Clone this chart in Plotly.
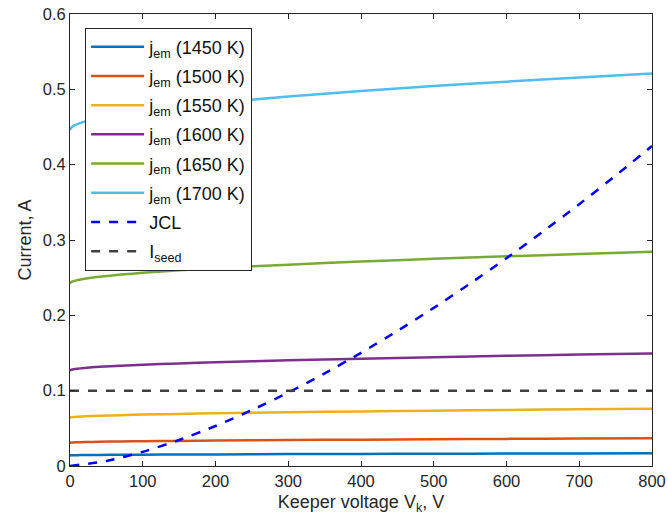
import plotly.graph_objects as go

V = [0, 2, 5, 10, 20, 40, 70, 100, 150, 200, 300, 400, 500, 600, 700, 800]
j1450 = [0.0141, 0.0142, 0.0143, 0.0144, 0.0145, 0.0147, 0.0149, 0.0150, 0.0153, 0.0154, 0.0158, 0.0160, 0.0163, 0.0165, 0.0167, 0.0169]
j1500 = [0.0309, 0.0312, 0.0313, 0.0315, 0.0318, 0.0321, 0.0326, 0.0329, 0.0333, 0.0337, 0.0344, 0.0350, 0.0355, 0.0360, 0.0364, 0.0368]
j1550 = [0.0642, 0.0647, 0.0651, 0.0654, 0.0660, 0.0667, 0.0675, 0.0682, 0.0691, 0.0699, 0.0713, 0.0724, 0.0734, 0.0744, 0.0753, 0.0761]
j1600 = [0.1268, 0.1278, 0.1285, 0.1292, 0.1302, 0.1316, 0.1331, 0.1344, 0.1362, 0.1377, 0.1403, 0.1425, 0.1445, 0.1463, 0.1480, 0.1495]
j1650 = [0.2423, 0.2442, 0.2454, 0.2467, 0.2485, 0.2511, 0.2541, 0.2564, 0.2597, 0.2625, 0.2673, 0.2713, 0.2750, 0.2783, 0.2815, 0.2844]
j1700 = [0.4460, 0.4495, 0.4515, 0.4538, 0.4571, 0.4618, 0.4670, 0.4712, 0.4770, 0.4820, 0.4905, 0.4978, 0.5043, 0.5102, 0.5158, 0.5209]

V_jcl = [0, 50, 100, 150, 200, 250, 300, 350, 400, 450, 500, 550, 600, 650, 700, 750, 800]
jcl = [0.0, 0.0066, 0.0188, 0.0345, 0.0531, 0.0742, 0.0975, 0.1229, 0.1502, 0.1792, 0.2099, 0.2421, 0.2759, 0.3111, 0.3476, 0.3855, 0.4248]

V_seed = [0, 800]
i_seed = [0.1, 0.1]

labels = ["j<sub>em</sub> (1450 K)", "j<sub>em</sub> (1500 K)", "j<sub>em</sub> (1550 K)",
          "j<sub>em</sub> (1600 K)", "j<sub>em</sub> (1650 K)", "j<sub>em</sub> (1700 K)"]
colors = ["#0072BD", "#D95319", "#EDB120", "#7E2F8E", "#77AC30", "#4DBEEE"]
series = [j1450, j1500, j1550, j1600, j1650, j1700]

FONT = "Liberation Sans, Arial, sans-serif"

fig = go.Figure()
for i, (lab, col, ys) in enumerate(zip(labels, colors, series)):
    fig.add_trace(go.Scatter(x=V, y=ys, mode="lines", name=lab, legendgroup=f"g{i}",
                             line=dict(color=col, width=2.5, shape="spline", smoothing=0.6)))
fig.add_trace(go.Scatter(x=V_jcl, y=jcl, mode="lines", name="JCL", legendgroup="gjcl",
                         line=dict(color="#0000FF", width=2.5, dash="dash", shape="spline", smoothing=0.6)))
fig.add_trace(go.Scatter(x=V_seed, y=i_seed, mode="lines", name="I<sub>seed</sub>", legendgroup="gseed",
                         line=dict(color="#404040", width=2.5, dash="dash")))

axis_common = dict(showgrid=False, zeroline=False, showline=True, linecolor="#262626", linewidth=1,
                   mirror="allticks", ticks="inside", ticklen=5, tickcolor="#262626", automargin=False,
                   tickfont=dict(size=16.5, color="#262626", family=FONT))
fig.update_xaxes(range=[0, 800], tickvals=[0, 100, 200, 300, 400, 500, 600, 700, 800],
                 title=dict(text="Keeper voltage V<sub>k</sub>, V", font=dict(size=18, color="#262626", family=FONT), standoff=6),
                 **axis_common)
fig.update_yaxes(range=[0, 0.6], tickvals=[0, 0.1, 0.2, 0.3, 0.4, 0.5, 0.6],
                 ticktext=["0", "0.1", "0.2", "0.3", "0.4", "0.5", "0.6"],
                 title=dict(text="Current, A", font=dict(size=18, color="#262626", family=FONT), standoff=6),
                 **axis_common)
fig.update_layout(
    width=668, height=531,
    margin=dict(l=70, r=16, t=14, b=65),
    plot_bgcolor="white", paper_bgcolor="white",
    font=dict(family=FONT, color="#262626"),
    legend=dict(x=0.026, y=0.97, xanchor="left", yanchor="top",
                bgcolor="white", bordercolor="#262626", borderwidth=1, itemwidth=53,
                font=dict(size=18, color="#111111", family=FONT), tracegroupgap=2.8),
    showlegend=True,
)
fig.write_html("out.html")
